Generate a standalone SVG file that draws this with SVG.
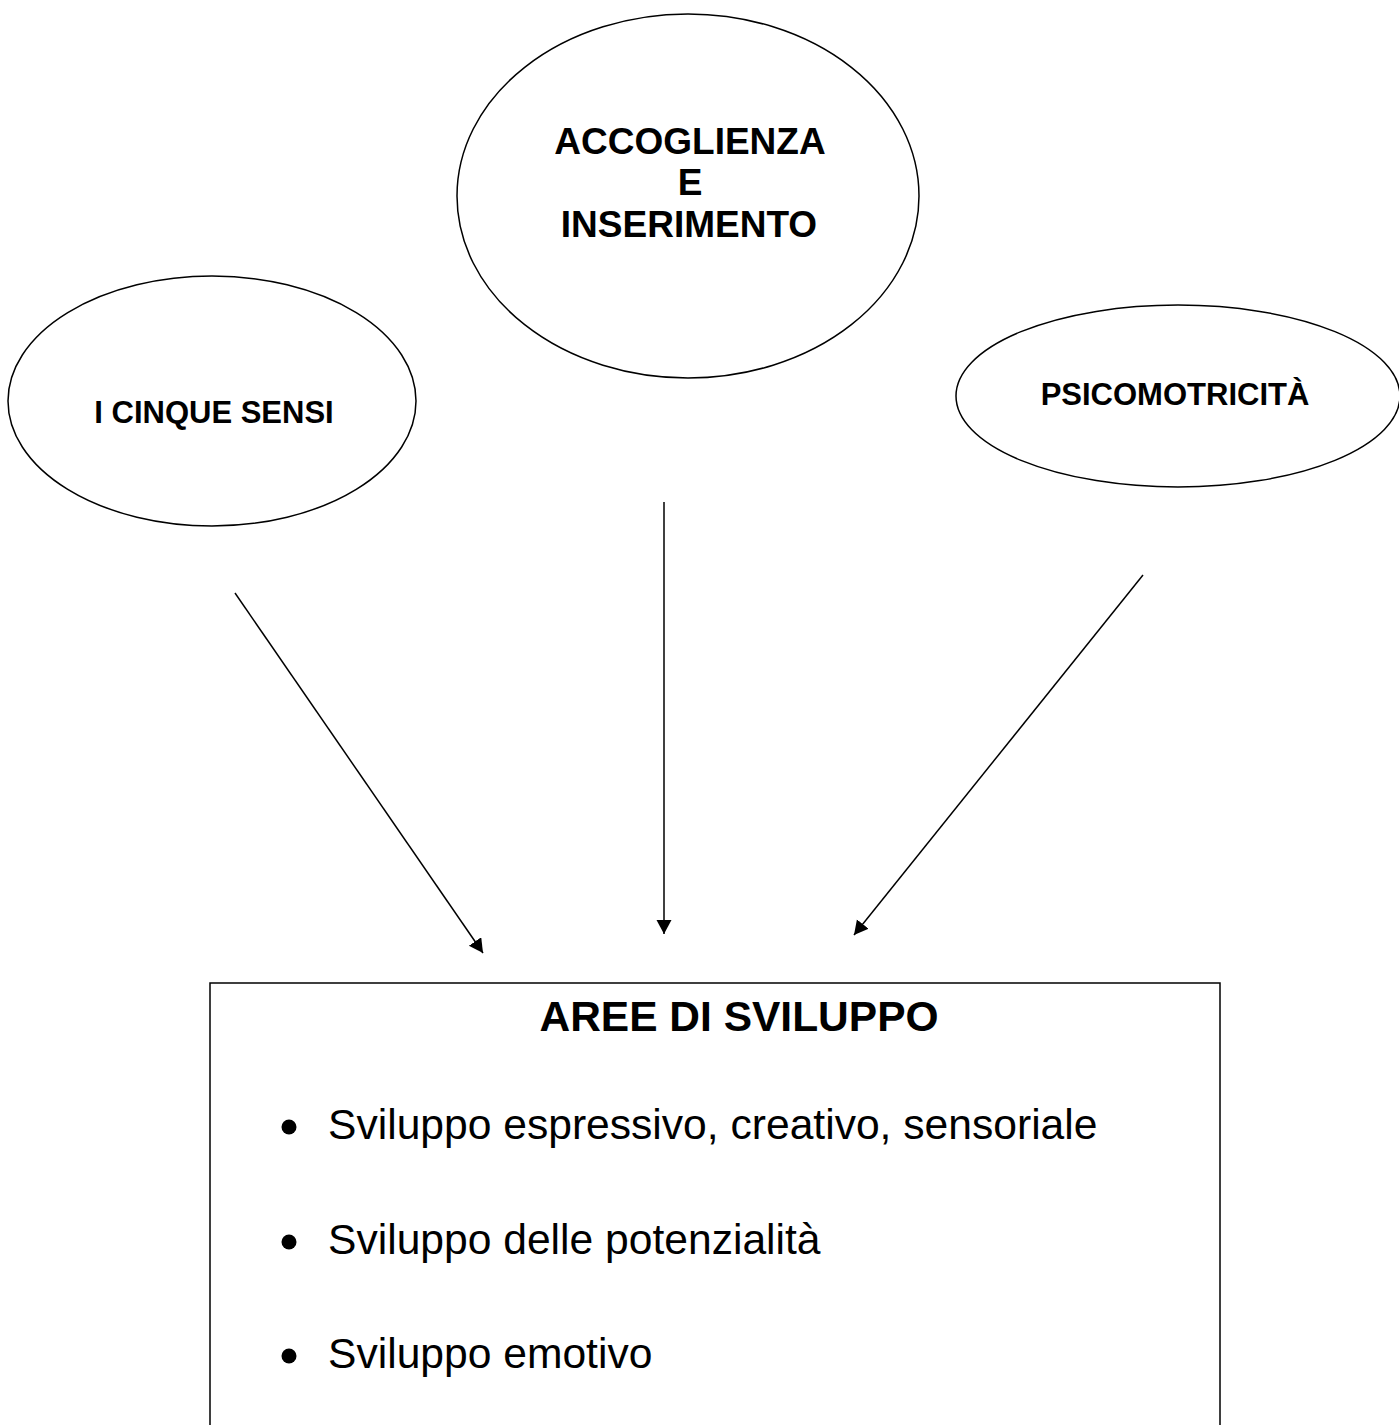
<svg xmlns="http://www.w3.org/2000/svg" width="1399" height="1425" viewBox="0 0 1399 1425">
<style>
.shape{fill:#fff;stroke:#000;stroke-width:1.5}
.lbl{font-family:"Liberation Sans",Arial,sans-serif;font-weight:bold;fill:#000;text-anchor:middle}
.item{font-family:"Liberation Sans",Arial,sans-serif;font-size:42.6px;fill:#000}
.conn{stroke:#000;stroke-width:1.5;fill:none}
</style>
<defs>
<marker id="ah" markerUnits="userSpaceOnUse" markerWidth="15" markerHeight="16" refX="14" refY="7.5" orient="auto">
<path d="M0,0 L14,7.5 L0,15 z" fill="#000"/>
</marker>
</defs>
<rect width="1399" height="1425" fill="#fff"/>
<g id="node-accoglienza">
<ellipse class="shape" cx="688" cy="196" rx="231" ry="182"/>
<text class="lbl" font-size="37" x="690" y="154">ACCOGLIENZA</text>
<text class="lbl" font-size="37" x="690" y="195">E</text>
<text class="lbl" font-size="37" x="689" y="237">INSERIMENTO</text>
</g>
<g id="node-sensi">
<ellipse class="shape" cx="212" cy="401" rx="204" ry="125"/>
<text class="lbl" font-size="31" x="214" y="423">I CINQUE SENSI</text>
</g>
<g id="node-psicomotricita">
<ellipse class="shape" cx="1178" cy="396" rx="222" ry="91"/>
<text class="lbl" font-size="31" x="1175" y="405">PSICOMOTRICITÀ</text>
</g>
<g id="node-aree">
<rect class="shape" x="210" y="983" width="1010" height="460"/>
<text class="lbl" font-size="42.5" x="739" y="1031">AREE DI SVILUPPO</text>
<circle cx="289" cy="1127" r="7.5" fill="#000"/>
<text class="item" x="328" y="1139">Sviluppo espressivo, creativo, sensoriale</text>
<circle cx="289" cy="1242" r="7.5" fill="#000"/>
<text class="item" x="328" y="1254">Sviluppo delle potenzialità</text>
<circle cx="289" cy="1356" r="7.5" fill="#000"/>
<text class="item" x="328" y="1368">Sviluppo emotivo</text>
</g>
<g id="connectors">
<line class="conn" x1="235" y1="593" x2="483" y2="953" marker-end="url(#ah)"/>
<line class="conn" x1="664" y1="502" x2="664" y2="934" marker-end="url(#ah)"/>
<line class="conn" x1="1143" y1="575" x2="854" y2="935" marker-end="url(#ah)"/>
</g>
</svg>
